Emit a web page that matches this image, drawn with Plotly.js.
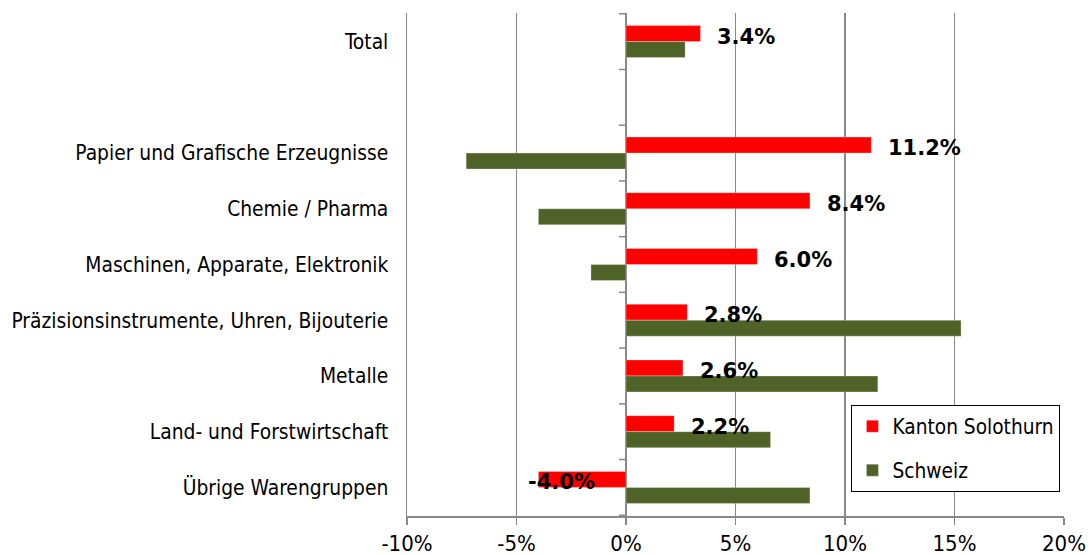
<!DOCTYPE html>
<html>
<head>
<meta charset="utf-8">
<script src="https://cdn.plot.ly/plotly-3.0.1.min.js"></script>
<style>html,body{margin:0;padding:0;background:#fff;}#chart{width:1090px;height:555px;}</style>
</head>
<body>
<div id="chart"></div>
<script>
const categories = ["Total", " ", "Papier und Grafische Erzeugnisse", "Chemie / Pharma", "Maschinen, Apparate, Elektronik", "Präzisionsinstrumente, Uhren, Bijouterie", "Metalle", "Land- und Forstwirtschaft", "Übrige Warengruppen"];
const solothurn = [3.4, null, 11.2, 8.4, 6.0, 2.8, 2.6, 2.2, -4.0];
const schweiz = [2.7, null, -7.3, -4.0, -1.6, 15.3, 11.5, 6.6, 8.4];
const seriesNames = ["Kanton Solothurn", "Schweiz"];
const xTicks = [-10, -5, 0, 5, 10, 15, 20];

const FONT = "'DejaVu Sans Condensed', 'DejaVu Sans', sans-serif";
const BOLDFONT = "'DejaVu Sans', sans-serif";
const GRID = "#888888";

const traces = [
  {type: "bar", orientation: "h", name: seriesNames[0], y: categories, x: solothurn,
   marker: {color: "#ff0000", line: {color: "rgba(255,255,255,0.6)", width: 0.5}}, hoverinfo: "x+y",
   legendgroup: "a"},
  {type: "bar", orientation: "h", name: seriesNames[1], y: categories, x: schweiz,
   marker: {color: "#4f6228", line: {color: "rgba(255,255,255,0.6)", width: 0.5}}, hoverinfo: "x+y",
   legendgroup: "b"}
];

const annotations = [];
solothurn.forEach((v, i) => {
  if (v === null) return;
  annotations.push({
    x: v, y: categories[i], xref: "x", yref: "y",
    text: v.toFixed(1) + "%", showarrow: false,
    xanchor: "left", yanchor: "middle",
    xshift: v >= 0 ? 15 : -12, yshift: 5,
    font: {family: BOLDFONT, size: 21, color: "#000", weight: "bold"}
  });
});

const shapes = [];
for (let i = 0; i <= categories.length; i++) {
  shapes.push({type: "line", xref: "x", yref: "y", xsizemode: "pixel", xanchor: 0,
    x0: -7, x1: 0, y0: i - 0.5, y1: i - 0.5, line: {color: GRID, width: 1.5}});
}

const layout = {
  width: 1090, height: 555,
  margin: {l: 407, r: 26, t: 13, b: 39, pad: 0},
  paper_bgcolor: "#fff", plot_bgcolor: "#fff",
  barmode: "group", bargap: 0.426, bargroupgap: 0,
  showlegend: true,
  font: {family: FONT, color: "#000"},
  xaxis: {
    range: [xTicks[0], xTicks[xTicks.length - 1]],
    tickvals: xTicks, ticktext: xTicks.map(t => t + "%"),
    showgrid: true, gridcolor: GRID, gridwidth: 1.5,
    zeroline: true, zerolinecolor: GRID, zerolinewidth: 1.5,
    showline: true, linecolor: GRID, linewidth: 1.5,
    ticks: "outside", ticklen: 7, tickcolor: GRID, tickwidth: 1.5,
    tickfont: {family: FONT, size: 22, color: "#000"},
    fixedrange: true
  },
  yaxis: {
    type: "category", categoryorder: "array", categoryarray: categories,
    autorange: "reversed",
    showgrid: false, zeroline: false,
    showline: true, linecolor: GRID, linewidth: 1.5,
    ticks: "outside", ticklen: 13, tickcolor: "rgba(0,0,0,0)",
    tickfont: {family: FONT, size: 20.8, color: "#000"},
    fixedrange: true
  },
  legend: {
    x: 0.676, y: 0.2207, xanchor: "left", yanchor: "top",
    bgcolor: "#fff", bordercolor: "#000", borderwidth: 1.3,
    font: {family: FONT, size: 20.7, color: "#000"},
    traceorder: "grouped", tracegroupgap: 14
  },
  annotations: annotations,
  shapes: shapes
};

Plotly.newPlot("chart", traces, layout, {displayModeBar: false, staticPlot: true});
</script>
</body>
</html>
